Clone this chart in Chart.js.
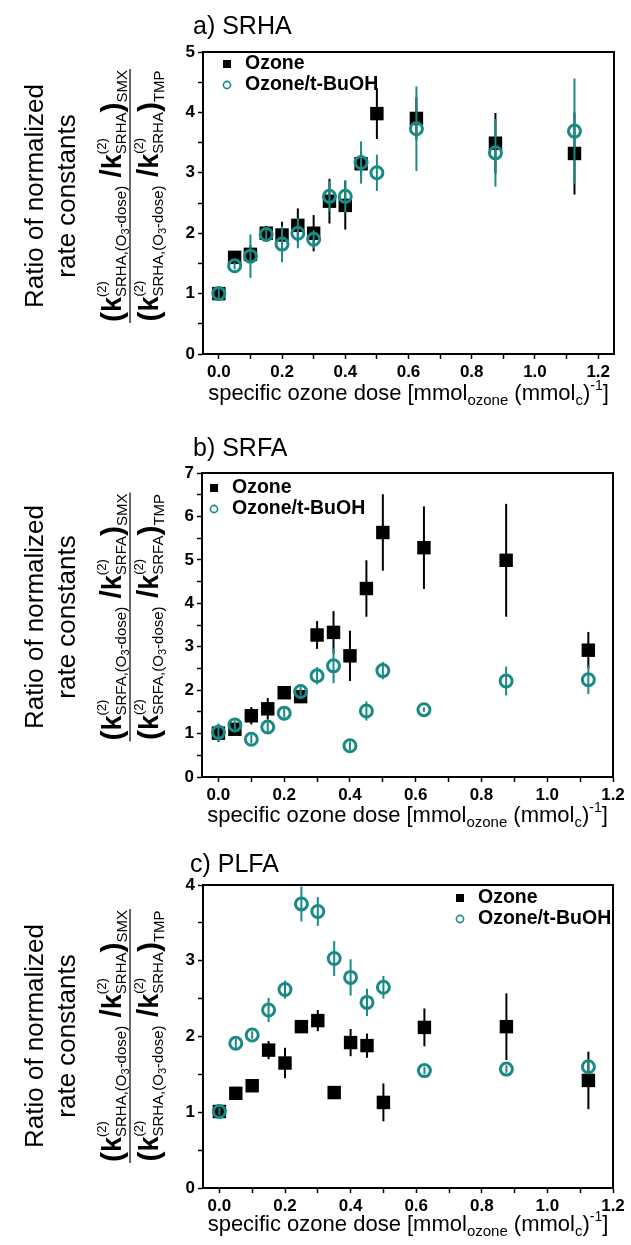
<!DOCTYPE html>
<html>
<head>
<meta charset="utf-8">
<script src="https://cdn.jsdelivr.net/npm/chart.js@4.4.1/dist/chart.umd.min.js"></script>
<style>
  body { margin: 0; background: #fff; }
  canvas { display: block; }
</style>
</head>
<body>
<canvas id="chartA" width="631" height="410"></canvas>
<canvas id="chartB" width="631" height="425"></canvas>
<canvas id="chartC" width="631" height="410"></canvas>
<script>
// specific ozone dose (same for all three panels)
const doses = [0, 0.05, 0.1, 0.15, 0.2, 0.25, 0.3, 0.35, 0.4, 0.45, 0.5, 0.625, 0.875, 1.125];

// a) SRHA
const srhaOzone = [1.0, 1.6, 1.65, 2.0, 1.97, 2.13, 2.0, 2.53, 2.46, 3.15, 3.98, 3.9, 3.49, 3.32];
const srhaOzoneErr = [0.08, 0.1, 0.15, 0.12, 0.22, 0.28, 0.3, 0.37, 0.4, 0.2, 0.42, 0.35, 0.5, 0.68];
const srhaBuOH = [1.0, 1.46, 1.62, 1.98, 1.82, 2.0, 1.9, 2.61, 2.61, 3.17, 3.0, 3.73, 3.33, 3.69];
const srhaBuOHErr = [0.1, 0.06, 0.36, 0.12, 0.3, 0.25, 0.15, 0.25, 0.27, 0.35, 0.3, 0.7, 0.56, 0.87];

// b) SRFA
const srfaOzone = [1.01, 1.1, 1.41, 1.57, 1.94, 1.85, 3.27, 3.33, 2.79, 4.34, 5.63, 5.28, 4.99, 2.92];
const srfaOzoneErr = [0.2, 0.1, 0.2, 0.25, 0.1, 0.1, 0.32, 0.49, 0.58, 0.65, 0.88, 0.95, 1.3, 0.42];
const srfaBuOH = [1.03, 1.2, 0.87, 1.15, 1.47, 1.97, 2.33, 2.56, 0.72, 1.52, 2.45, 1.55, 2.21, 2.24];
const srfaBuOHErr = [0.2, 0.1, 0.1, 0.15, 0.1, 0.1, 0.2, 0.4, 0.1, 0.22, 0.2, 0.05, 0.33, 0.33];

// c) PLFA
const plfaOzone = [1.01, 1.25, 1.35, 1.82, 1.65, 2.13, 2.21, 1.26, 1.92, 1.88, 1.13, 2.12, 2.13, 1.42];
const plfaOzoneErr = [0.05, 0.05, 0.06, 0.12, 0.2, 0.06, 0.14, 0.08, 0.18, 0.16, 0.25, 0.25, 0.44, 0.38];
const plfaBuOH = [1.01, 1.91, 2.02, 2.35, 2.62, 3.75, 3.65, 3.03, 2.78, 2.45, 2.65, 1.55, 1.57, 1.6];
const plfaBuOHErr = [0.05, 0.06, 0.05, 0.16, 0.12, 0.23, 0.19, 0.23, 0.24, 0.18, 0.15, 0.05, 0.05, 0.08];

// axis ticks
const xTicks = [0, 0.1, 0.2, 0.3, 0.4, 0.5, 0.6, 0.7, 0.8, 0.9, 1.0, 1.1, 1.2];
const yTicksA = [0, 0.5, 1, 1.5, 2, 2.5, 3, 3.5, 4, 4.5, 5];
const yTicksB = [0, 0.5, 1, 1.5, 2, 2.5, 3, 3.5, 4, 4.5, 5, 5.5, 6, 6.5, 7];
const yTicksC = [0, 0.5, 1, 1.5, 2, 2.5, 3, 3.5, 4];

const teal = '#1a8a84';
const FONT = "'Liberation Sans', Arial, sans-serif";

// draw a run of text pieces (font, baseline shift) centred on x=0
function richText(ctx, parts, baseY) {
  let w = 0;
  parts.forEach(p => {
    ctx.font = p.f + ' ' + FONT;
    p.w = ctx.measureText(p.t).width;
    if (p.adv !== false) w += p.w;
  });
  let x = -w / 2;
  parts.forEach(p => {
    ctx.font = p.f + ' ' + FONT;
    ctx.fillText(p.t, x, baseY + (p.dy || 0));
    if (p.adv !== false) x += p.w;
  });
  return w;
}

function ratioParts(name, tail) {
  return [
    {t: '(', f: 'bold 30px', dy: 1},
    {t: 'k', f: 'bold 27px'},
    {t: '(2)', f: '13px', dy: -15, adv: false},
    {t: name + ',(O', f: '15px', dy: 5},
    {t: '3', f: '11px', dy: 8},
    {t: '-dose)', f: '15px', dy: 5},
    {t: ' /', f: 'bold 30px'},
    {t: 'k', f: 'bold 27px'},
    {t: '(2)', f: '13px', dy: -15, adv: false},
    {t: name, f: '15px', dy: 5},
    {t: ')', f: 'bold 30px', dy: 1},
    {t: tail, f: '15px', dy: 6}
  ];
}

const decorations = {
  id: 'decorations',
  beforeDatasetDraw(chart, args) {
    // error bars for this dataset, drawn under its markers
    const ds = chart.data.datasets[args.index];
    const xs = chart.scales.x, ys = chart.scales.y;
    const ctx = chart.ctx;
    ctx.save();
    ctx.strokeStyle = ds.errColor;
    ctx.lineWidth = 2;
    ds.data.forEach((p, i) => {
      const e = ds.err[i];
      const px = xs.getPixelForValue(p.x);
      ctx.beginPath();
      ctx.moveTo(px, ys.getPixelForValue(p.y - e));
      ctx.lineTo(px, ys.getPixelForValue(p.y + e));
      ctx.stroke();
    });
    ctx.restore();
  },
  afterDraw(chart) {
    const o = chart.options.plugins.decorations;
    const ctx = chart.ctx;
    const a = chart.chartArea;
    ctx.save();
    // frame
    ctx.strokeStyle = '#000';
    ctx.lineWidth = 2;
    ctx.strokeRect(a.left, a.top, a.right - a.left, a.bottom - a.top);

    // panel title
    ctx.fillStyle = '#000';
    ctx.textBaseline = 'alphabetic';
    ctx.textAlign = 'left';
    ctx.font = '25px ' + FONT;
    ctx.fillText(o.title, o.titleX, o.titleY);

    // legend
    const lx = o.legendX, ly = o.legendY;
    ctx.fillStyle = '#000';
    ctx.fillRect(lx - 4, ly - 4, 8, 8);
    ctx.beginPath();
    ctx.strokeStyle = teal;
    ctx.lineWidth = 1.6;
    ctx.arc(lx, ly + 21, 3.6, 0, Math.PI * 2);
    ctx.stroke();
    ctx.font = 'bold 19.5px ' + FONT;
    ctx.textBaseline = 'middle';
    ctx.fillText('Ozone', lx + 18, ly);
    ctx.fillText('Ozone/t-BuOH', lx + 18, ly + 21);

    // x axis title
    ctx.textBaseline = 'alphabetic';
    const cx = (a.left + a.right) / 2;
    ctx.save();
    ctx.translate(cx, a.bottom + o.xTitleGap);
    richText(ctx, [
      {t: 'specific ozone dose [mmol', f: '22px'},
      {t: 'ozone', f: '15px', dy: 5},
      {t: ' (mmol', f: '22px'},
      {t: 'c', f: '15px', dy: 5},
      {t: ')', f: '22px'},
      {t: '-1', f: '14px', dy: -10},
      {t: ']', f: '22px'}
    ], 0);
    ctx.restore();

    // y axis title (rotated)
    const cy = o.yTitleY;
    ctx.save();
    ctx.translate(0, cy);
    ctx.rotate(-Math.PI / 2);
    ctx.font = '26px ' + FONT;
    ctx.textAlign = 'center';
    ctx.fillText('Ratio of normalized', 0, 43);
    ctx.fillText('rate constants', 0, 75);
    ctx.textAlign = 'left';
    const w1 = richText(ctx, ratioParts(o.name, 'SMX'), 121);
    const w2 = richText(ctx, ratioParts(o.name, 'TMP'), 158);
    const lw = Math.max(w1, w2) + 2;
    ctx.strokeStyle = '#000';
    ctx.lineWidth = 1.2;
    ctx.beginPath();
    ctx.moveTo(-lw / 2, 130);
    ctx.lineTo(lw / 2, 130);
    ctx.stroke();
    ctx.restore();

    ctx.restore();
  }
};

function pts(ys) {
  return doses.map((x, i) => ({x: x, y: ys[i]}));
}

function makeChart(id, cfg) {
  const isLabelX = v => Math.abs(Math.round(v * 10) % 2) === 0;
  return new Chart(document.getElementById(id), {
    type: 'scatter',
    data: {
      datasets: [
        {
          label: 'Ozone',
          data: pts(cfg.ozone),
          err: cfg.ozoneErr,
          errColor: '#000',
          pointStyle: 'rect',
          pointRadius: 9.5,
          pointHoverRadius: 9.5,
          backgroundColor: '#000',
          borderColor: '#000',
          borderWidth: 0,
          order: 1
        },
        {
          label: 'Ozone/t-BuOH',
          data: pts(cfg.buoh),
          err: cfg.buohErr,
          errColor: teal,
          pointStyle: 'circle',
          pointRadius: 6,
          pointHoverRadius: 6,
          backgroundColor: 'rgba(0,0,0,0)',
          borderColor: teal,
          borderWidth: 3,
          order: 0
        }
      ]
    },
    options: {
      responsive: false,
      animation: false,
      layout: { padding: { top: cfg.top, right: 631 - cfg.right, left: 0, bottom: 0 } },
      plugins: {
        legend: { display: false },
        tooltip: { enabled: false },
        decorations: cfg.deco
      },
      scales: {
        x: {
          type: 'linear',
          min: -0.05,
          max: cfg.xMax,
          afterBuildTicks: s => { s.ticks = xTicks.map(v => ({value: v})); },
          afterFit: s => { s.height = cfg.xHeight; },
          ticks: {
            color: '#000',
            padding: 3,
            maxRotation: 0,
            autoSkip: false,
            font: { family: FONT, size: 17, weight: 'bold' },
            callback: v => isLabelX(v) ? v.toFixed(1) : ''
          },
          grid: { drawOnChartArea: false, color: '#000', tickLength: 5, tickWidth: 1.5 },
          border: { color: '#000', width: 2 }
        },
        y: {
          type: 'linear',
          min: 0,
          max: cfg.yMax,
          afterBuildTicks: s => { s.ticks = cfg.yTicks.map(v => ({value: v})); },
          afterFit: s => { s.width = cfg.left; },
          ticks: {
            color: '#000',
            padding: 3,
            autoSkip: false,
            font: { family: FONT, size: 17, weight: 'bold' },
            callback: v => Number.isInteger(v) ? String(v) : ''
          },
          grid: { drawOnChartArea: false, color: '#000', tickLength: 5, tickWidth: 1.5 },
          border: { color: '#000', width: 2 }
        }
      }
    },
    plugins: [decorations]
  });
}

makeChart('chartA', {
  ozone: srhaOzone, ozoneErr: srhaOzoneErr, buoh: srhaBuOH, buohErr: srhaBuOHErr,
  yMax: 5, yTicks: yTicksA, xMax: 1.25,
  top: 52, left: 203, right: 614, xHeight: 56,
  deco: { title: 'a) SRHA', titleX: 193, titleY: 34, legendX: 227, legendY: 64,
          xTitleGap: 46, yTitleY: 196, name: 'SRHA' }
});

makeChart('chartB', {
  ozone: srfaOzone, ozoneErr: srfaOzoneErr, buoh: srfaBuOH, buohErr: srfaBuOHErr,
  yMax: 7, yTicks: yTicksB, xMax: 1.2,
  top: 63, left: 202, right: 613, xHeight: 58,
  deco: { title: 'b) SRFA', titleX: 193, titleY: 46, legendX: 214, legendY: 78,
          xTitleGap: 45, yTitleY: 207, name: 'SRFA' }
});

makeChart('chartC', {
  ozone: plfaOzone, ozoneErr: plfaOzoneErr, buoh: plfaBuOH, buohErr: plfaBuOHErr,
  yMax: 4, yTicks: yTicksC, xMax: 1.2,
  top: 50, left: 203, right: 613, xHeight: 57,
  deco: { title: 'c) PLFA', titleX: 190, titleY: 37, legendX: 460, legendY: 63,
          xTitleGap: 43, yTitleY: 201, name: 'SRHA' }
});
</script>
</body>
</html>
